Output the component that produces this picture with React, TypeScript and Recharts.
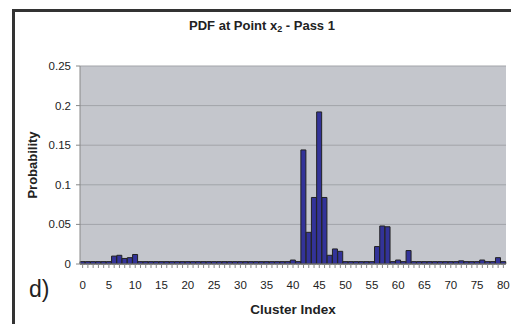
import React from 'react';
import { BarChart, Bar, XAxis, YAxis, CartesianGrid } from 'recharts';

// probability per cluster, index 0..80
const probability = [
  0.003, 0.003, 0.003, 0.003, 0.003, 0.003, 0.010, 0.011, 0.007, 0.008,
  0.012, 0.003, 0.003, 0.003, 0.003, 0.003, 0.003, 0.003, 0.003, 0.003,
  0.003, 0.003, 0.003, 0.003, 0.003, 0.003, 0.003, 0.003, 0.003, 0.003,
  0.003, 0.003, 0.003, 0.003, 0.003, 0.003, 0.003, 0.003, 0.003, 0.003,
  0.005, 0.003, 0.144, 0.040, 0.084, 0.192, 0.084, 0.011, 0.019, 0.016,
  0.003, 0.003, 0.003, 0.003, 0.003, 0.003, 0.022, 0.048, 0.047, 0.003,
  0.005, 0.003, 0.017, 0.003, 0.003, 0.003, 0.003, 0.003, 0.003, 0.003,
  0.003, 0.003, 0.004, 0.003, 0.003, 0.003, 0.005, 0.003, 0.003, 0.008,
  0.003,
];

const xTickLabels = ['0', '5', '10', '15', '20', '25', '30', '35', '40', '45', '50', '55', '60', '65', '70', '75', '80'];
const yTicks = [0, 0.05, 0.1, 0.15, 0.2, 0.25];

const data = probability.map((p, i) => ({ idx: String(i), p }));

const FONT = '"Liberation Sans", Arial, sans-serif';

export default function App() {
  return (
    <div style={{ position: 'absolute', left: 0, top: 0, width: 511, height: 324, background: '#fff', overflow: 'hidden', fontFamily: FONT, color: '#222' }}>
      {/* frame */}
      <div style={{ position: 'absolute', left: 12, top: 9, width: 520, height: 340, borderTop: '3px solid #333', borderLeft: '3px solid #333' }} />

      <BarChart
        width={511}
        height={324}
        data={data}
        margin={{ top: 66, right: 5, bottom: 30, left: 0 }}
        barCategoryGap={0}
        barGap={0}
        style={{ position: 'absolute', left: 0, top: 0 }}
      >
        <CartesianGrid vertical={false} fill="#c4c6cc" stroke="#a2a4a9" />
        <XAxis
          dataKey="idx"
          interval={0}
          height={30}
          tickSize={4}
          tickMargin={13}
          stroke="#888"
          tick={{ fontSize: 11.5, fill: '#222', fontFamily: FONT }}
          tickFormatter={(v: string) => (xTickLabels.includes(v) ? v : '')}
        />
        <YAxis
          width={80}
          domain={[0, 0.25]}
          ticks={yTicks}
          tickSize={4}
          tickMargin={5}
          stroke="#888"
          tick={{ fontSize: 11.5, fill: '#222', fontFamily: FONT }}
        />
        <Bar dataKey="p" fill="#333399" stroke="#222" strokeWidth={1} isAnimationActive={false} />
      </BarChart>

      <div style={{ position: 'absolute', left: 13, width: 498, top: 18, textAlign: 'center', fontSize: 13, fontWeight: 'bold', lineHeight: '15px' }}>
        PDF at Point x<sub style={{ fontSize: 9, verticalAlign: '-2px' }}>2</sub> - Pass 1
      </div>

      <div style={{ position: 'absolute', left: -27, top: 157, width: 120, height: 16, lineHeight: '16px', textAlign: 'center', fontSize: 13, fontWeight: 'bold', transform: 'rotate(-90deg)' }}>
        Probability
      </div>

      <div style={{ position: 'absolute', left: 80, width: 426, top: 302, textAlign: 'center', fontSize: 13.5, fontWeight: 'bold', lineHeight: '15px' }}>
        Cluster Index
      </div>

      <div style={{ position: 'absolute', left: 29, top: 278, fontSize: 23, lineHeight: 1 }}>
        d)
      </div>
    </div>
  );
}
